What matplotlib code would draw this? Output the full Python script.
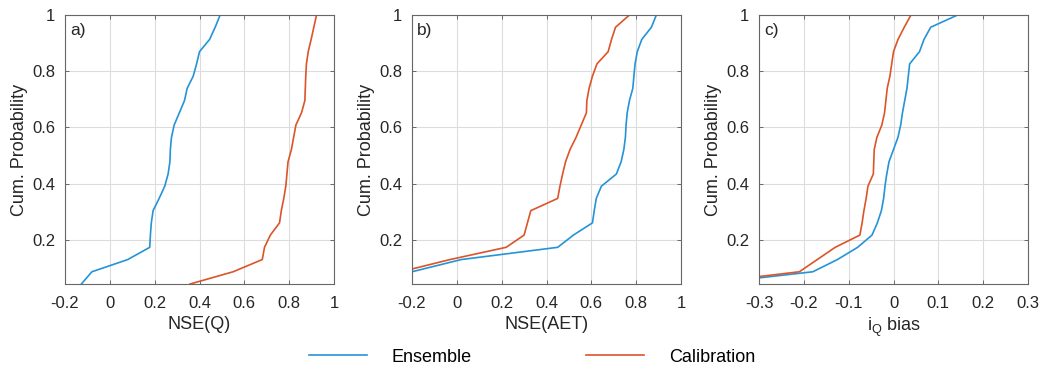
import numpy as np
import matplotlib
matplotlib.use("Agg")
import matplotlib.pyplot as plt

plt.rcParams['font.family'] = ['Liberation Sans', 'DejaVu Sans']

# Cumulative probability levels shared by every curve (23 catchments)
n_members = 23
cum_prob = np.arange(1, n_members + 1) / n_members

# a) NSE of discharge, sorted ascending
nse_q_ensemble = [-0.127, -0.08, 0.08, 0.178, 0.181, 0.185, 0.193, 0.22, 0.245,
                  0.26, 0.268, 0.27, 0.275, 0.287, 0.31, 0.333, 0.345, 0.372,
                  0.387, 0.40, 0.445, 0.47, 0.492]
nse_q_calibration = [0.358, 0.55, 0.68, 0.69, 0.716, 0.757, 0.765, 0.776, 0.785,
                     0.79, 0.795, 0.81, 0.82, 0.83, 0.855, 0.87, 0.872, 0.874,
                     0.877, 0.885, 0.898, 0.91, 0.922]

# b) NSE of actual evapotranspiration
nse_aet_ensemble = [-0.5, -0.2, 0.02, 0.45, 0.52, 0.605, 0.613, 0.622, 0.645,
                    0.712, 0.733, 0.745, 0.752, 0.755, 0.76, 0.77, 0.785, 0.79,
                    0.795, 0.805, 0.825, 0.868, 0.89]
nse_aet_calibration = [-0.55, -0.25, -0.03, 0.22, 0.30, 0.315, 0.33, 0.45, 0.46,
                       0.472, 0.485, 0.505, 0.532, 0.555, 0.578, 0.58, 0.59,
                       0.605, 0.625, 0.675, 0.69, 0.708, 0.77]

# c) bias of the discharge index
iq_bias_ensemble = [-0.42, -0.18, -0.125, -0.08, -0.048, -0.036, -0.027, -0.022,
                    -0.019, -0.015, -0.01, 0.0, 0.01, 0.016, 0.02, 0.025, 0.03,
                    0.033, 0.036, 0.058, 0.068, 0.083, 0.143]
iq_bias_calibration = [-0.44, -0.21, -0.17, -0.13, -0.075, -0.07, -0.066, -0.061,
                       -0.057, -0.045, -0.044, -0.043, -0.037, -0.026, -0.02,
                       -0.017, -0.014, -0.008, -0.004, 0.0, 0.01, 0.024, 0.039]

panel_tags = ['a)', 'b)', 'c)']
x_labels = ['NSE(Q)', 'NSE(AET)', r'i$_\mathregular{Q}$ bias']
x_limits = [(-0.2, 1.0), (-0.2, 1.0), (-0.3, 0.3)]
x_ticks = [np.round(np.arange(-0.2, 1.01, 0.2), 1),
           np.round(np.arange(-0.2, 1.01, 0.2), 1),
           np.round(np.arange(-0.3, 0.31, 0.1), 1)]
y_ticks = [0.2, 0.4, 0.6, 0.8, 1.0]

ensemble_series = [nse_q_ensemble, nse_aet_ensemble, iq_bias_ensemble]
calibration_series = [nse_q_calibration, nse_aet_calibration, iq_bias_calibration]

blue = '#2493d8'
red = '#dc5428'
text_color = '#262626'


def fmt(v):
    s = f"{v:g}"
    return "0" if s in ("-0", "0") else s


fig = plt.figure(figsize=(10.47, 3.68), dpi=100)
lefts = [65 / 1047, 412 / 1047, 759 / 1047]
width = 269 / 1047
bottom = 1 - 284 / 368
height = 269 / 368

handles = None
for i in range(3):
    ax = fig.add_axes([lefts[i], bottom, width, height])
    h1, = ax.plot(ensemble_series[i], cum_prob, color=blue, lw=1.2, label='Ensemble')
    h2, = ax.plot(calibration_series[i], cum_prob, color=red, lw=1.2, label='Calibration')
    handles = [h1, h2]
    ax.set_xlim(*x_limits[i])
    ax.set_ylim(1 / n_members, 1)
    ax.set_xticks(x_ticks[i])
    ax.set_xticklabels([fmt(v) for v in x_ticks[i]])
    ax.set_yticks(y_ticks)
    ax.set_yticklabels([fmt(v) for v in y_ticks])
    ax.grid(True, color='#dcdcdc', lw=0.8)
    ax.set_axisbelow(True)
    ax.tick_params(direction='in', length=3, width=0.6, color='#555555',
                   top=True, right=True, labelsize=12, labelcolor=text_color)
    ax.tick_params(axis='x', pad=9)
    ax.tick_params(axis='y', pad=7)
    for sp in ax.spines.values():
        sp.set_color('#666666')
        sp.set_linewidth(0.8)
    ax.set_xlabel(x_labels[i], fontsize=13, labelpad=3, color=text_color)
    ax.set_ylabel('Cum. Probability', fontsize=13, labelpad=3, color=text_color)
    ax.text(0.02, 0.97, panel_tags[i], transform=ax.transAxes, ha='left',
            va='top', fontsize=12.5, color=text_color)

fig.legend(handles=handles, labels=['Ensemble', 'Calibration'], loc='center',
           bbox_to_anchor=(532 / 1047, 1 - 357 / 368), ncol=2, frameon=False,
           fontsize=13, handlelength=3.2, handletextpad=1.4, columnspacing=6.3)

fig.savefig('out.png', dpi=100)
